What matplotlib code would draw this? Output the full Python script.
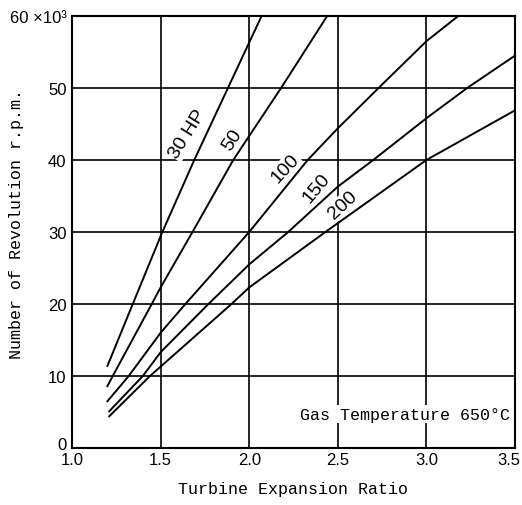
import matplotlib
matplotlib.use("Agg")
import matplotlib.pyplot as plt
import matplotlib.transforms as mtransforms

# data (x = expansion ratio, y = rpm in thousands)
hp30_x = [1.20, 1.343, 1.51, 1.69, 1.88, 2.07]
hp30_y = [11.4, 20.0, 30.0, 40.0, 50.0, 60.0]

hp50_x = [1.20, 1.23, 1.45, 1.50, 1.68, 1.91, 2.18, 2.44]
hp50_y = [8.6, 10.0, 20.0, 22.3, 30.0, 40.0, 50.0, 60.0]

hp100_x = [1.20, 1.32, 1.50, 1.64, 2.00, 2.33, 2.50, 2.73, 3.00, 3.18]
hp100_y = [6.5, 10.0, 16.0, 20.0, 30.0, 40.0, 44.4, 50.0, 56.5, 60.0]

hp150_x = [1.21, 1.40, 1.50, 1.77, 2.00, 2.22, 2.50, 2.70, 3.00, 3.23, 3.50]
hp150_y = [5.1, 10.0, 13.3, 20.0, 25.5, 30.0, 36.3, 40.0, 45.8, 50.0, 54.5]

hp200_x = [1.21, 1.44, 1.50, 1.90, 2.00, 2.43, 3.00, 3.50]
hp200_y = [4.4, 10.0, 11.3, 20.0, 22.3, 30.0, 40.0, 46.9]

curve_labels = ["30 HP", "50", "100", "150", "200"]
label_xy = [(1.654, 43.6), (1.907, 42.9), (2.203, 38.9), (2.381, 36.1), (2.527, 33.8)]
label_rot = [58, 57, 47, 50, 43]

xticks = [1.0, 1.5, 2.0, 2.5, 3.0, 3.5]
xtick_labels = ["1.0", "1.5", "2.0", "2.5", "3.0", "3.5"]
yticks = [0, 10, 20, 30, 40, 50, 60]
ytick_labels = ["0", "10", "20", "30", "40", "50", "60 \u00d710\u00b3"]

mono = "Liberation Mono"
sans = "Liberation Sans"

fig = plt.figure(figsize=(5.22, 5.06), dpi=100)
ax = fig.add_axes([0.1379, 0.1126, 0.8487, 0.8538])

for xs, ys in [(hp30_x, hp30_y), (hp50_x, hp50_y), (hp100_x, hp100_y),
               (hp150_x, hp150_y), (hp200_x, hp200_y)]:
    ax.plot(xs, ys, color="black", lw=1.4, zorder=3)

for txt, (lx, ly), rot in zip(curve_labels, label_xy, label_rot):
    ax.text(lx, ly, txt, rotation=rot, rotation_mode="anchor", ha="center", va="center",
            fontsize=14, family=sans, zorder=2,
            bbox=dict(facecolor="white", edgecolor="none", pad=0.5))

ax.text(3.47, 4.7, "Gas Temperature 650\u00b0C", ha="right", va="center",
        fontsize=12, family=mono, zorder=2,
        bbox=dict(facecolor="white", edgecolor="none", pad=1))

ax.set_xlim(1.0, 3.5)
ax.set_ylim(0, 60)
ax.set_xticks(xticks)
ax.set_xticklabels(xtick_labels, family=sans, fontsize=12)
ax.set_yticks(yticks)
ax.set_yticklabels(ytick_labels, family=sans, fontsize=12)
ax.tick_params(axis="y", length=0, pad=4)
ax.tick_params(axis="x", length=0, pad=3)
# last x label sits against the right edge, nudge it left
last = ax.get_xticklabels()[-1]
last.set_transform(last.get_transform() + mtransforms.ScaledTranslation(-6 / 100, 0, fig.dpi_scale_trans))
# "0" sits a little above the corner so it clears "1.0"
zero = ax.get_yticklabels()[0]
zero.set_transform(zero.get_transform() + mtransforms.ScaledTranslation(0, 5 / 100, fig.dpi_scale_trans))

ax.grid(True, color="black", lw=1.2, zorder=0)
ax.set_axisbelow(True)
for s in ax.spines.values():
    s.set_linewidth(1.5)

ax.set_xlabel("Turbine Expansion Ratio", family=mono, fontsize=12, labelpad=10)
ax.set_ylabel("Number of Revolution r.p.m.", family=mono, fontsize=12)
ax.yaxis.set_label_coords(-0.108, 0.52)

fig.savefig("out.png", dpi=100)
